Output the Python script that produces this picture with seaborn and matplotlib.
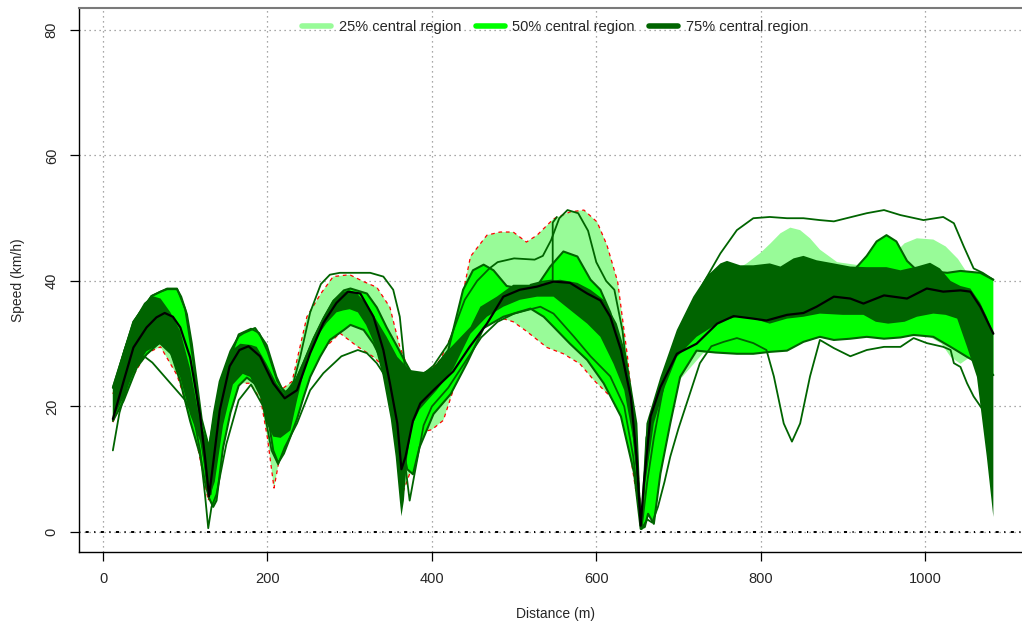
import matplotlib
matplotlib.use('Agg')
import matplotlib.pyplot as plt
from matplotlib.lines import Line2D
import seaborn as sns
import numpy as np

sns.set_style('white')
plt.rcParams['font.family'] = ['Liberation Sans', 'DejaVu Sans']

# median curve
MED_X = [12, 25, 37, 53, 65, 75, 85, 94, 106, 118, 124, 129, 135, 142, 154, 166, 177, 191, 207, 221,
         236, 252, 268, 284, 298, 313, 329, 341, 349, 358, 363, 368, 377, 386, 402, 426, 446, 467, 487, 507,
         528, 548, 568, 589, 605, 617, 630, 642, 649, 654, 658, 666, 678, 698, 722, 747, 767, 791, 807, 832,
         852, 868, 889, 909, 925, 950, 978, 1002, 1022, 1043, 1055, 1067, 1083]
MED_Y = [18, 24, 29.4, 32.6, 34.2, 34.9, 34.3, 32.6, 27.8, 18.7, 12, 5.7, 12, 19.4, 26.4, 29, 29.6, 28, 23.7, 21.3,
         22.6, 28.5, 33.3, 36.5, 38.3, 38, 34.3, 29, 23.7, 17.3, 10, 12, 17.7, 20.5, 22.6, 25.6, 29.5, 33.2, 37.5, 38.6,
         39.1, 39.9, 39.7, 38, 36.9, 34.3, 29, 21.5, 12, 1, 8, 18.4, 23.1, 28.4, 30, 33.2, 34.4, 34, 33.7, 34.6,
         34.9, 35.9, 37.5, 37.2, 36.4, 37.7, 37.2, 38.8, 38.3, 38.5, 38.3, 35.9, 31.6]

# 75% central region (upper / lower)
U75_X = [12, 25, 37, 50, 60, 70, 82, 94, 106, 118, 128, 135, 142, 155, 167, 180, 187, 199, 211, 221,
         232, 244, 256, 268, 280, 293, 300, 309, 321, 333, 345, 358, 366, 374, 390, 402, 420, 447, 459, 479,
         499, 520, 540, 556, 577, 593, 609, 625, 637, 650, 655, 661, 678, 698, 718, 734, 751, 759, 775, 791,
         811, 824, 840, 852, 868, 889, 909, 929, 953, 970, 990, 1006, 1018, 1031, 1043, 1055, 1067, 1075, 1083]
U75_Y = [23, 29, 33.6, 36.5, 37.6, 37.2, 35, 32, 26, 17.7, 13.9, 19, 24, 28.8, 30, 29.8, 29.5, 26.8, 23.7, 22,
         23.7, 27.4, 31.1, 34.3, 37, 38.3, 38.5, 38, 36.3, 33.7, 31.1, 27.9, 26.8, 25.8, 25.5, 26.3, 29, 32.7, 35.9, 37.5,
         39.4, 39.4, 39.9, 40.2, 39.7, 38.6, 37, 33.2, 27.9, 17.3, 0.5, 17.3, 24.7, 32.2, 37.5, 40.7, 42.8, 43.2, 42.5, 42.5,
         42.8, 42.3, 43.6, 44, 43.3, 42.8, 42.3, 42.2, 42.2, 41.7, 42.3, 42.9, 42, 40, 39.2, 38.8, 36.5, 34.3, 31.6]
L75_X = [12, 25, 37, 53, 69, 82, 94, 106, 118, 124, 129, 136, 146, 158, 170, 179, 191, 199, 207, 216,
         228, 236, 248, 260, 272, 284, 292, 300, 310, 320, 330, 340, 350, 356, 361, 363, 366, 370, 376, 385,
         395, 406, 426, 447, 467, 487, 507, 528, 548, 568, 589, 605, 621, 634, 646, 655, 660, 670, 683, 698,
         722, 751, 771, 791, 811, 832, 852, 872, 900, 925, 940, 955, 975, 990, 1010, 1025, 1039, 1051, 1063, 1075,
         1083]
L75_Y = [18, 21.4, 25.6, 28.8, 29.9, 28.3, 24.6, 18.7, 14.5, 10, 5.4, 8, 17, 23.5, 25.2, 24.7, 21.5, 17.3, 15.2, 15,
         16.2, 21, 27.5, 31, 33.3, 35, 35.3, 35.5, 35, 33, 30, 25, 18, 12, 5, 2.5, 5, 12, 17, 19.5,
         21, 22.6, 26, 31.6, 34.3, 35.9, 37, 37.5, 37.5, 35.4, 33.2, 31.1, 26.8, 22.6, 14, 0.3, 8, 17.3, 23, 27.9,
         31.1, 33.5, 34.3, 34, 33.2, 34, 34.3, 34.8, 34.6, 34.6, 33.5, 33.2, 33.5, 34.3, 34.8, 34.6, 34, 29.5, 24.7, 12,
         2.4]

# 50% central region (upper / lower)
U50_X = [12, 37, 59, 70, 78, 90, 95, 102, 108, 114, 120, 129, 135, 142, 155, 165, 171, 185, 199, 211,
         217, 222, 232, 244, 256, 268, 280, 293, 301, 321, 333, 345, 358, 366, 381, 402, 420, 438, 450, 463,
         475, 491, 507, 528, 544, 560, 577, 593, 605, 617, 630, 642, 650, 655, 661, 678, 698, 718, 734, 751,
         775, 811, 852, 889, 912, 929, 941, 953, 965, 978, 990, 1010, 1027, 1043, 1067, 1083]
U50_Y = [23, 33.5, 37.6, 38.3, 38.7, 38.7, 37.5, 34.7, 30, 24, 18, 13.4, 19, 24, 28.8, 31.2, 31.7, 32.5, 29.8, 24.7,
         23, 22.3, 23.5, 27, 30.8, 34, 36.8, 38.5, 38.8, 38, 35.8, 32.6, 29.5, 27.5, 24, 25.8, 29, 38.6, 41.7, 42.6,
         41.7, 39.2, 38.8, 39.2, 42.3, 44.7, 43.9, 40.2, 38.6, 35, 29, 20, 10, 0.5, 15, 23, 30, 35, 38, 40,
         40, 40, 40, 40, 41.5, 44, 46.3, 47.3, 46.3, 43.2, 41.7, 41.5, 41.3, 41.6, 41.3, 40.2]
L50_X = [12, 25, 41, 53, 69, 75, 82, 94, 106, 118, 124, 129, 134, 138, 146, 155, 165, 175, 191, 200,
         207, 213, 220, 228, 236, 244, 252, 264, 276, 293, 301, 317, 329, 341, 353, 362, 370, 377, 385, 402,
         423, 443, 463, 487, 507, 520, 536, 548, 568, 589, 609, 630, 646, 654, 659, 663, 670, 678, 690, 702,
         722, 745, 771, 791, 811, 832, 852, 872, 889, 909, 929, 950, 970, 986, 1010, 1031, 1051, 1063, 1075, 1083]
L50_Y = [17.7, 20.9, 26.2, 28.3, 30.2, 30.5, 28.8, 24, 17.7, 12.3, 8, 5.4, 4, 5, 13.4, 19, 23.3, 24.6, 23, 19,
         13, 11, 12.5, 15.2, 18, 21.5, 24.7, 27.9, 30.6, 32.2, 33, 32.2, 30, 26.9, 22.1, 15, 10, 9.2, 13.5, 18.8,
         22, 27, 32.5, 34.3, 35.1, 35.6, 34.3, 32.7, 30, 27.4, 23.7, 18.4, 9.4, 0.5, 0.8, 2.9, 1.3, 9.3, 17.3, 24.7,
         28.9, 28.6, 28.4, 28.4, 28.7, 28.9, 30.3, 31.1, 30.6, 30.8, 31.1, 30.8, 31, 31.4, 31.1, 29.5, 27.9, 27, 26, 25]

# 25% central region (upper / lower)
U25_X = [12, 50, 70, 90, 110, 128, 145, 170, 190, 210, 230, 248, 265, 280, 300, 317, 333, 349, 361, 374,
         390, 410, 430, 447, 467, 483, 499, 515, 528, 548, 568, 585, 601, 613, 626, 638, 650, 655, 665, 680,
         700, 730, 760, 783, 800, 812, 824, 836, 848, 860, 872, 893, 920, 945, 960, 975, 990, 1010, 1025, 1040,
         1050, 1058, 1063]
U25_Y = [22, 36, 37, 33, 22, 12, 22, 29, 28, 22, 24, 34.3, 38, 40.7, 41, 39.9, 39, 35.8, 29.5, 25.2,
         24.7, 27.4, 33, 43.9, 47.3, 47.8, 47.8, 46.2, 47.3, 49.9, 51, 51.3, 49.4, 45.7, 39.9, 27.9, 12, 0.5, 12, 22,
         30, 37, 41, 42.8, 44.5, 46, 47.6, 48.5, 48.1, 46.8, 45, 43, 42.5, 42.6, 44, 46, 46.8, 46.6, 45.5, 43.5,
         41.5, 36, 28]
L25_X = [12, 37, 53, 70, 90, 110, 128, 150, 166, 179, 192, 200, 208, 215, 225, 240, 260, 288, 309, 329,
         341, 350, 358, 364, 375, 390, 400, 414, 426, 438, 455, 479, 499, 515, 540, 560, 580, 597, 614, 630,
         642, 650, 655, 665, 680, 700, 730, 780, 850, 930, 1000, 1020, 1031, 1043, 1055, 1063]
L25_Y = [17.5, 25, 28.5, 29.5, 25, 17, 5, 18, 23.7, 23.7, 21, 15, 7, 12, 16, 22, 28, 31.7, 29.6, 27.9,
         26.4, 22, 15, 6, 10, 16, 16.3, 17.8, 22.6, 29.5, 33.2, 34.3, 33.5, 32, 29.4, 28.4, 26.8, 24.2, 22, 20.5,
         11.8, 5, 0.5, 6, 15, 24, 28.5, 29, 31, 31, 31.5, 30, 27.9, 26.8, 27.9, 28]

# outer curves
EH_X = [12, 37, 59, 78, 90, 100, 110, 120, 127, 131, 138, 150, 165, 180, 190, 200, 212, 222, 232, 240,
        252, 265, 276, 288, 310, 325, 341, 353, 361, 366, 370, 378, 390, 402, 420, 440, 455, 470, 480, 500,
        525, 535, 545, 555, 565, 578, 590, 600, 612, 622, 632, 642, 650, 655, 662, 670, 680, 690, 710, 730,
        751, 771, 791, 811, 832, 852, 872, 889, 929, 950, 970, 998, 1022, 1035, 1047, 1059, 1070, 1083]
EH_Y = [23, 33.5, 37.6, 38.8, 38.8, 35.5, 27, 15, 7, 6, 14, 26, 31.5, 32.4, 31.7, 28.8, 24, 22, 24, 28,
        35, 39.5, 41, 41.3, 41.3, 41.3, 40.7, 38.6, 34.3, 27.9, 22, 24, 25.2, 26.5, 30, 37, 40, 42, 43, 43.6,
        43.4, 44, 46.5, 50, 51.3, 50.8, 48, 43, 40, 38.6, 32, 20, 9, 0.5, 8, 15, 22, 28.1, 33.4, 39.6,
        44.4, 48.1, 50, 50.2, 50, 50, 49.7, 49.5, 50.8, 51.3, 50.5, 49.7, 50.2, 49.2, 45.5, 42, 41.3, 40.2]
EL_X = [12, 20, 30, 40, 50, 60, 70, 80, 90, 100, 110, 118, 124, 128, 132, 138, 150, 165, 180, 195,
        205, 213, 221, 236, 252, 268, 290, 310, 321, 333, 345, 357, 365, 373, 380, 390, 400, 420, 440, 460,
        480, 500, 532, 548, 573, 593, 617, 634, 645, 655, 662, 668, 675, 683, 690, 700, 710, 726, 740, 755,
        771, 791, 807, 816, 828, 838, 848, 860, 872, 889, 909, 929, 950, 970, 986, 1002, 1022, 1031, 1035, 1043,
        1051, 1059, 1069]
EL_Y = [13, 19, 23.5, 26.5, 28, 27, 25.5, 24, 22.5, 21, 18.5, 13, 6, 0.6, 4, 6, 14, 21, 23.5, 20,
        13, 10.8, 13.5, 17.3, 22.6, 25.3, 28, 29, 28.5, 26.9, 24.5, 18.8, 13.5, 5, 10, 17, 20, 23, 27, 31,
        33.5, 34.8, 35.9, 34.8, 31.1, 28, 24.8, 20, 12, 0.5, 2, 1.5, 4, 8, 12, 16.5, 20.5, 26.9, 29.6, 30.3,
        30.9, 30.1, 29, 24.8, 17.3, 14.4, 17.3, 24.8, 30.6, 29.3, 28, 29, 29.5, 29.5, 30.9, 30.1, 29.5, 29, 26.9, 26.3,
        23.7, 21.6, 19.7]
JUMP_X = [520, 535, 547, 547, 552]
JUMP_Y = [39.4, 39.9, 40.1, 49.3, 50.2]

LEGEND_LABELS = ['25% central region', '50% central region', '75% central region']
C25, C50, C75 = '#98FB98', '#00FF00', '#006400'


def band(ax, ux, uy, lx, ly, color, z):
    xs = list(ux) + list(lx)[::-1]
    ys = list(uy) + list(ly)[::-1]
    ax.fill(xs, ys, color=color, lw=0, zorder=z)


def line(ax, x, y, color, lw, z, ls='-'):
    sns.lineplot(x=x, y=y, sort=False, estimator=None, color=color, linewidth=lw,
                 linestyle=ls, ax=ax, zorder=z)


fig = plt.figure(figsize=(10.22, 6.25), dpi=100)
ax = fig.add_axes([79 / 1022, 1 - 552 / 625, (1032 - 79) / 1022, (552 - 8) / 625])

band(ax, U25_X, U25_Y, L25_X, L25_Y, C25, 2.0)
# red dashed border of 25% region (middle part only)
for xs, ys in ((U25_X, U25_Y), (L25_X, L25_Y)):
    xa, ya = np.array(xs), np.array(ys)
    m = xa <= 655
    line(ax, xa[m], ya[m], 'red', 0.9, 2.1, ls=(0, (3, 3)))

band(ax, U50_X, U50_Y, L50_X, L50_Y, C50, 2.2)
line(ax, U50_X, U50_Y, C75, 1.5, 2.3)
line(ax, L50_X, L50_Y, C75, 1.5, 2.3)

band(ax, U75_X, U75_Y, L75_X, L75_Y, C75, 2.4)

line(ax, EH_X, EH_Y, C75, 1.3, 2.5)
line(ax, EL_X, EL_Y, C75, 1.3, 2.5)
line(ax, JUMP_X, JUMP_Y, C75, 1.3, 2.5)
line(ax, MED_X, MED_Y, 'black', 1.6, 2.6)

ax.axhline(0, color='black', lw=1.4, ls=(0, (0.6, 2.8, 1.6, 2.8)), zorder=1.5)

ax.set_xlim(-29.2, 1130)
ax.set_ylim(-3.19, 83.5)
ax.set_xticks([0, 200, 400, 600, 800, 1000])
ax.set_yticks([0, 20, 40, 60, 80])
ax.grid(True, color='#8c8c8c', lw=0.9, ls=(0, (1, 3)), zorder=0)
ax.set_axisbelow(True)

ax.spines['right'].set_visible(False)
ax.spines['top'].set_color('#7a7a7a')
ax.spines['top'].set_linewidth(1.5)
for s in ('left', 'bottom'):
    ax.spines[s].set_color('black')
    ax.spines[s].set_linewidth(1.0)

ax.tick_params(axis='both', direction='out', length=6.5, width=0.9, color='black',
               labelsize=10.5, pad=8, left=True, bottom=True)
for lab in ax.get_yticklabels():
    lab.set_rotation(90)
    lab.set_va('center')

ax.set_xlabel('Distance (m)', fontsize=10, va='center')
ax.set_ylabel('Speed (km/h)', fontsize=10, va='center')
ax.xaxis.set_label_coords((555 - 79) / 953, -(614 - 552) / 544)
ax.yaxis.set_label_coords(-(79 - 18) / 953, (552 - 280) / 544)

handles = [Line2D([0], [0], color=c, lw=4) for c in (C25, C50, C75)]
fig.legend(handles, LEGEND_LABELS, loc='center', bbox_to_anchor=(555 / 1022, 1 - 27 / 625),
           ncol=3, frameon=False, fontsize=10.5, handlelength=2.0, handletextpad=0.5,
           columnspacing=1.0)

fig.savefig('out.png', dpi=100)
